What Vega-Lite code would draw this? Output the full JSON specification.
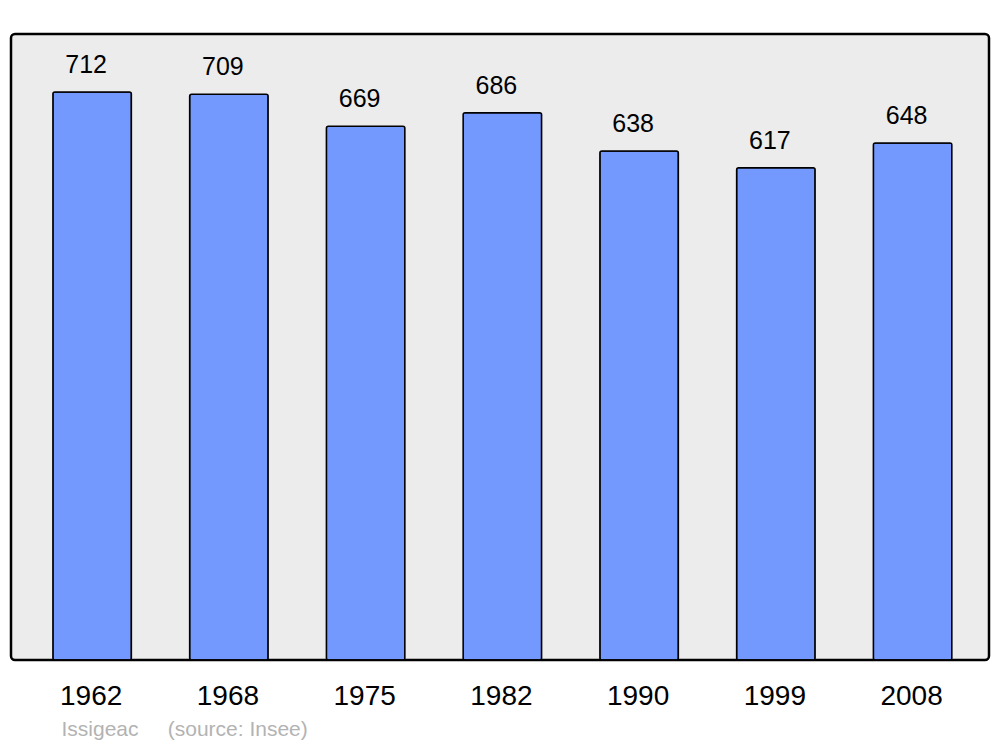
{
  "$schema": "https://vega.github.io/schema/vega-lite/v6.json",
  "width": 978,
  "height": 626,
  "autosize": {"type": "none"},
  "padding": {"left": 11, "top": 34, "right": 11, "bottom": 87},
  "background": "#ffffff",
  "config": {
    "view": {"fill": "#ececec", "stroke": "#000000", "strokeWidth": 2.5, "cornerRadius": 4},
    "font": "Liberation Sans"
  },
  "data": {
    "values": [
      {"year": "1962", "pop": 712},
      {"year": "1968", "pop": 709},
      {"year": "1975", "pop": 669},
      {"year": "1982", "pop": 686},
      {"year": "1990", "pop": 638},
      {"year": "1999", "pop": 617},
      {"year": "2008", "pop": 648}
    ]
  },
  "encoding": {
    "x": {
      "field": "year",
      "type": "ordinal",
      "sort": null,
      "scale": {"paddingInner": 0.426, "paddingOuter": 0.289, "align": 0.53},
      "axis": {
        "title": "Issigeac\u00a0\u00a0\u00a0\u00a0\u00a0(source: Insee)",
        "titleFont": "Liberation Sans",
        "titleFontSize": 21,
        "titleFontWeight": "normal",
        "titleColor": "#b3b3b3",
        "titleAnchor": "start",
        "titleAlign": "left",
        "titleBaseline": "alphabetic",
        "titleX": 50,
        "titleY": 75,
        "labelAngle": 0,
        "labelFontSize": 28,
        "labelColor": "#000000",
        "labelFont": "Liberation Sans",
        "labelBaseline": "alphabetic",
        "labelPadding": 44,
        "labelOffset": -1,
        "domain": false,
        "ticks": false,
        "tickSize": 0,
        "grid": false
      }
    },
    "y": {
      "field": "pop",
      "type": "quantitative",
      "scale": {"domain": [0, 784.6], "nice": false, "zero": true},
      "axis": null
    }
  },
  "layer": [
    {
      "mark": {"type": "bar", "fill": "#7399ff", "stroke": "#000000", "strokeWidth": 1.5, "cornerRadius": 2}
    },
    {
      "mark": {"type": "text", "baseline": "alphabetic", "dy": -19, "dx": -6, "fontSize": 25, "color": "#000000", "font": "Liberation Sans"},
      "encoding": {"text": {"field": "pop", "type": "quantitative"}}
    }
  ]
}
